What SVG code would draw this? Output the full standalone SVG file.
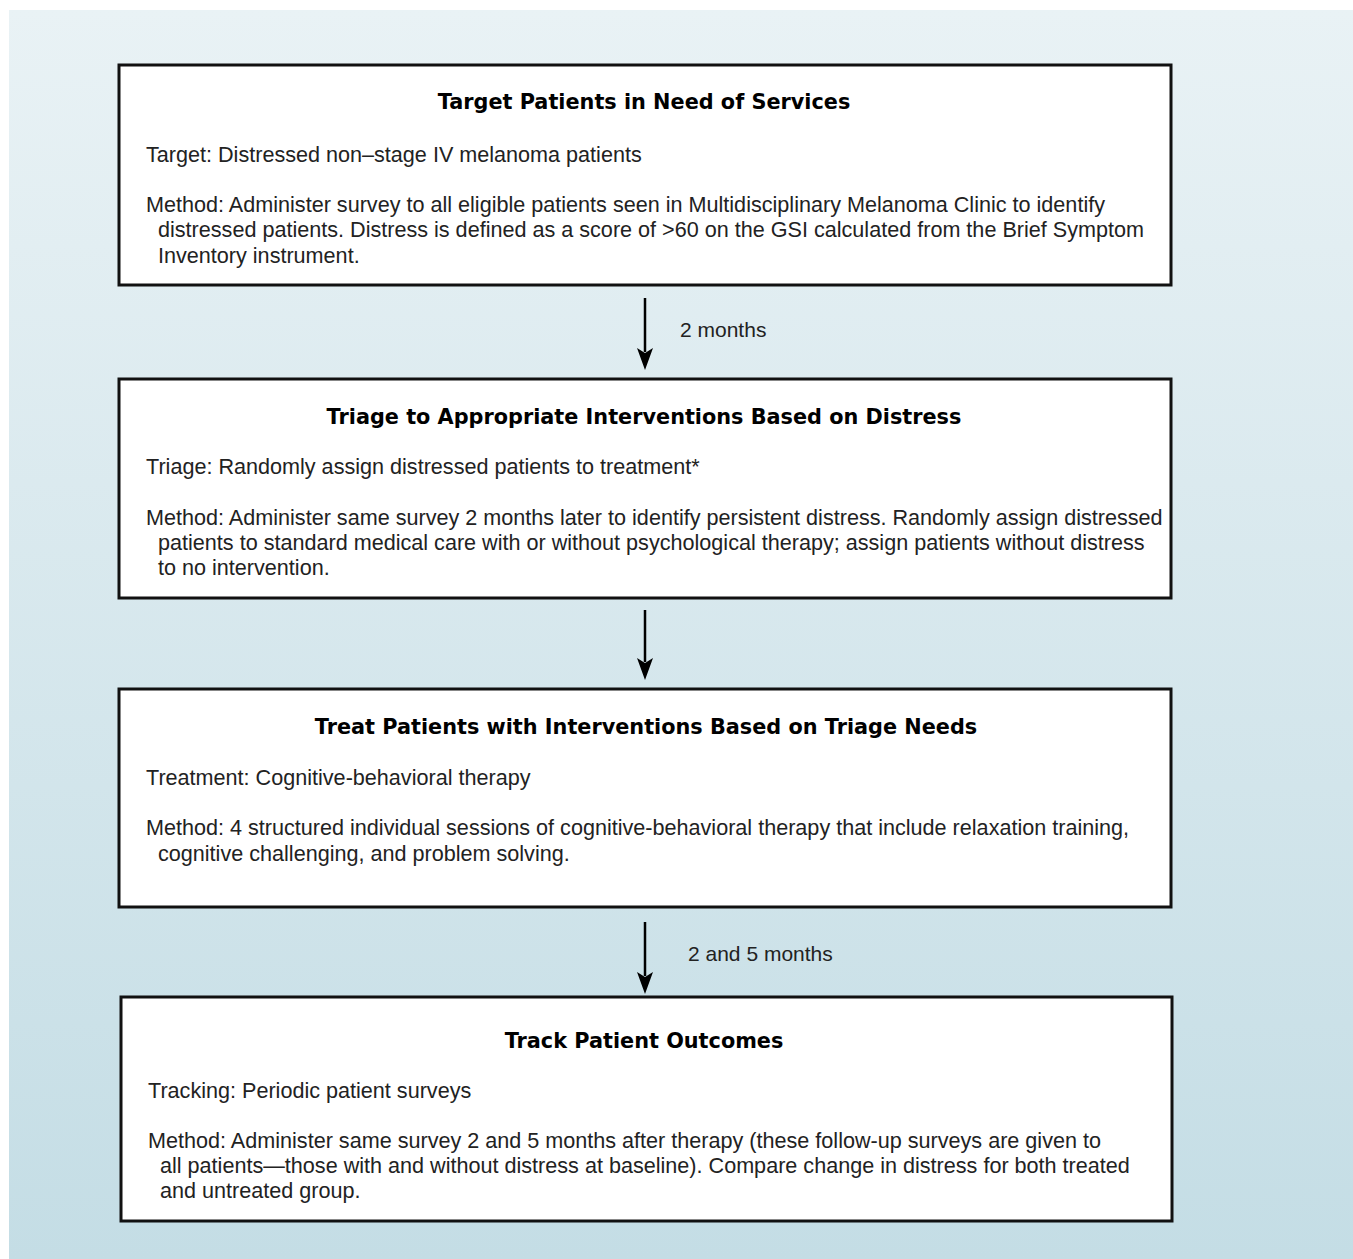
<svg xmlns="http://www.w3.org/2000/svg" width="1353" height="1259" viewBox="0 0 1353 1259">
<defs>
<linearGradient id="bg" x1="0" y1="0" x2="0" y2="1">
<stop offset="0" stop-color="#e9f2f5"/>
<stop offset="1" stop-color="#c4dde5"/>
</linearGradient>
<style>
.box{fill:#fff;stroke:#111;stroke-width:3}
.title{font-family:"DejaVu Sans",sans-serif;font-weight:bold;font-size:20.8px;fill:#000;text-anchor:middle}
.body{font-family:"Liberation Sans",Arial,sans-serif;font-size:21.6px;fill:#222}
.lbl{font-family:"Liberation Sans",Arial,sans-serif;font-size:21px;fill:#222}
.conn{stroke:#000;stroke-width:2.5;fill:none}
</style>
</defs>
<rect x="0" y="0" width="1353" height="1259" fill="#fff"/>
<rect x="9" y="10" width="1344" height="1249" fill="url(#bg)"/>

<g id="connectors">
<line class="conn" x1="645" y1="298" x2="645" y2="352"/>
<path d="M637,348 L645,370 L653,348 L645,353 Z" fill="#000"/>
<text class="lbl" x="680" y="337">2 months</text>
<line class="conn" x1="645" y1="610" x2="645" y2="662"/>
<path d="M637,658 L645,680 L653,658 L645,663 Z" fill="#000"/>
<line class="conn" x1="645" y1="922" x2="645" y2="976"/>
<path d="M637,972 L645,994 L653,972 L645,977 Z" fill="#000"/>
<text class="lbl" x="688" y="961">2 and 5 months</text>
</g>

<g id="node-target">
<rect class="box" x="119" y="65" width="1052" height="220"/>
<text class="title" x="644" y="109">Target Patients in Need of Services</text>
<text class="body" x="146" y="162">Target: Distressed non–stage IV melanoma patients</text>
<text class="body" x="146" y="212">Method: Administer survey to all eligible patients seen in Multidisciplinary Melanoma Clinic to identify</text>
<text class="body" x="158" y="237">distressed patients. Distress is defined as a score of &gt;60 on the GSI calculated from the Brief Symptom</text>
<text class="body" x="158" y="263">Inventory instrument.</text>
</g>

<g id="node-triage">
<rect class="box" x="119" y="379" width="1052" height="219"/>
<text class="title" x="644" y="424">Triage to Appropriate Interventions Based on Distress</text>
<text class="body" x="146" y="474">Triage: Randomly assign distressed patients to treatment*</text>
<text class="body" x="146" y="525">Method: Administer same survey 2 months later to identify persistent distress. Randomly assign distressed</text>
<text class="body" x="158" y="550">patients to standard medical care with or without psychological therapy; assign patients without distress</text>
<text class="body" x="158" y="575">to no intervention.</text>
</g>

<g id="node-treat">
<rect class="box" x="119" y="689" width="1052" height="218"/>
<text class="title" x="646" y="734">Treat Patients with Interventions Based on Triage Needs</text>
<text class="body" x="146" y="785">Treatment: Cognitive-behavioral therapy</text>
<text class="body" x="146" y="835">Method: 4 structured individual sessions of cognitive-behavioral therapy that include relaxation training,</text>
<text class="body" x="158" y="861">cognitive challenging, and problem solving.</text>
</g>

<g id="node-track">
<rect class="box" x="121" y="997" width="1051" height="224"/>
<text class="title" x="644" y="1048">Track Patient Outcomes</text>
<text class="body" x="148" y="1098">Tracking: Periodic patient surveys</text>
<text class="body" x="148" y="1148">Method: Administer same survey 2 and 5 months after therapy (these follow-up surveys are given to</text>
<text class="body" x="160" y="1173">all patients—those with and without distress at baseline). Compare change in distress for both treated</text>
<text class="body" x="160" y="1198">and untreated group.</text>
</g>
</svg>
